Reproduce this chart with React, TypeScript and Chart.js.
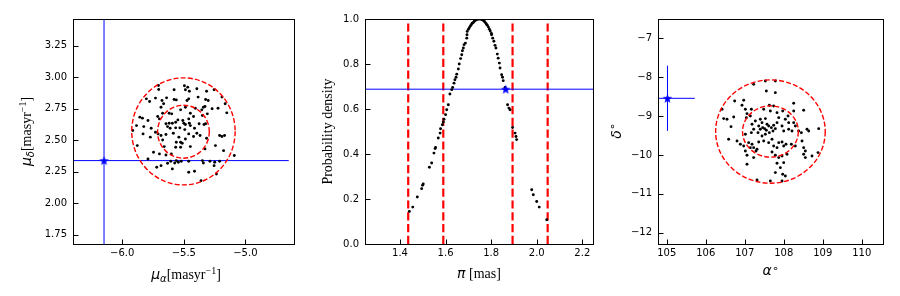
import React, { useEffect, useRef } from 'react';
import { Chart, registerables } from 'chart.js';

Chart.register(...registerables);

// ================= DATA =================
// Panel 1 — proper motion (mu_alpha, mu_delta) of members
const PM_RA_VALUES = [
  -5.706, -5.704, -5.579, -5.495, -5.468, -5.487, -5.455, -5.394, -5.315, -5.254, -5.190,
  -5.804, -5.778, -5.730, -5.677, -5.640, -5.664, -5.685, -5.579, -5.561, -5.474, -5.460,
  -5.384, -5.323, -5.302, -5.341, -5.328, -5.270, -5.222, -5.164, -5.151,
  -5.857, -5.836, -5.884, -5.825, -5.791, -5.765, -5.772, -5.831, -5.915, -5.878, -5.791,
  -5.712, -5.698, -5.672, -5.619, -5.598, -5.526, -5.487, -5.447, -5.407, -5.354, -5.349,
  -5.309, -5.421, -5.460, -5.548, -5.566, -5.593, -5.508,
  -5.645, -5.619, -5.632, -5.611, -5.566, -5.532, -5.500, -5.487, -5.455, -5.447, -5.492,
  -5.413, -5.376, -5.336, -5.323, -5.209, -5.190, -5.169, -5.315, -5.368, -5.394, -5.421,
  -5.460, -5.487, -5.540, -5.585, -5.645, -5.685, -5.709, -5.730, -5.672, -5.659, -5.561,
  -5.526, -5.513, -5.566, -5.526, -5.447, -5.328, -5.243, -5.177, -5.090,
  -5.746, -5.698, -5.601, -5.645, -5.606, -5.632, -5.561, -5.545, -5.574, -5.521, -5.460,
  -5.349, -5.341, -5.288, -5.249, -5.209, -5.254, -5.720, -5.685, -5.593, -5.460, -5.413,
  -5.360, -5.235,
];
const PM_DEC_VALUES = [
  2.934, 2.902, 2.900, 2.932, 2.921, 2.900, 2.889, 2.908, 2.889, 2.900, 2.842,
  2.828, 2.807, 2.834, 2.815, 2.836, 2.789, 2.762, 2.823, 2.820, 2.815, 2.828,
  2.842, 2.823, 2.815, 2.762, 2.767, 2.749, 2.754, 2.789, 2.717,
  2.683, 2.675, 2.616, 2.608, 2.656, 2.595, 2.524, 2.550, 2.577, 2.457, 2.351,
  2.688, 2.669, 2.714, 2.714, 2.709, 2.741, 2.762, 2.714, 2.754, 2.741, 2.696,
  2.709, 2.688, 2.669, 2.661, 2.643, 2.635, 2.656,
  2.630, 2.635, 2.608, 2.595, 2.598, 2.598, 2.635, 2.624, 2.635, 2.616, 2.584,
  2.595, 2.630, 2.624, 2.630, 2.537, 2.529, 2.537, 2.516, 2.537, 2.555, 2.529,
  2.550, 2.510, 2.524, 2.555, 2.545, 2.537, 2.550, 2.563, 2.502, 2.449, 2.484,
  2.484, 2.476, 2.444, 2.444, 2.449, 2.431, 2.457, 2.417, 2.378,
  2.404, 2.391, 2.391, 2.383, 2.333, 2.317, 2.338, 2.325, 2.319, 2.333, 2.333,
  2.338, 2.319, 2.333, 2.325, 2.333, 2.298, 2.285, 2.298, 2.272, 2.245, 2.253,
  2.179, 2.232,
];
const PM_STAR = { x: -6.148, y: 2.338, xErr: 1.5, yErr: 1.2 };
const PM_CIRCLES = [
  { cx: -5.503, cy: 2.570, rx: 0.42, ry: 0.425 },
  { cx: -5.503, cy: 2.567, rx: 0.21, ry: 0.21 },
];
const PM_X_RANGE = [-6.4, -4.605];
const PM_Y_RANGE = [1.676, 3.462];
const PM_X_TICKS = [-6.0, -5.5, -5.0];
const PM_Y_TICKS = [1.75, 2.0, 2.25, 2.5, 2.75, 3.0, 3.25];

// Panel 2 — parallax probability density
const PLX_VALUES = [
  1.441, 1.456, 1.476, 1.495, 1.499, 1.502, 1.529, 1.539, 1.549, 1.554, 1.556, 1.568,
  1.576, 1.578, 1.586, 1.590, 1.593, 1.600, 1.605, 1.612, 1.619, 1.627, 1.631, 1.637,
  1.641, 1.646, 1.649, 1.656, 1.660, 1.666, 1.671, 1.674, 1.678, 1.681, 1.687, 1.693,
  1.694, 1.695, 1.700, 1.704, 1.709, 1.713, 1.717, 1.722, 1.726, 1.731, 1.735, 1.739,
  1.744, 1.748, 1.752, 1.757, 1.761, 1.766, 1.770, 1.774, 1.779, 1.783, 1.788, 1.792,
  1.796, 1.801, 1.802, 1.807, 1.812, 1.817, 1.821, 1.827, 1.831, 1.836, 1.839, 1.846,
  1.850, 1.853, 1.861, 1.872, 1.878, 1.883, 1.894, 1.905, 1.909, 1.912, 1.978, 1.985,
  2.000, 2.011, 2.044,
];
const PLX_DENSITY = [
  0.145, 0.164, 0.209, 0.246, 0.261, 0.267, 0.341, 0.360, 0.404, 0.424, 0.429, 0.471,
  0.493, 0.512, 0.530, 0.542, 0.555, 0.575, 0.597, 0.619, 0.667, 0.686, 0.696, 0.715,
  0.730, 0.741, 0.755, 0.778, 0.800, 0.824, 0.841, 0.859, 0.871, 0.886, 0.893, 0.915,
  0.930, 0.945, 0.954, 0.961, 0.969, 0.975, 0.981, 0.985, 0.990, 0.994, 0.997, 0.999,
  1.000, 1.000, 1.000, 0.999, 0.997, 0.994, 0.990, 0.984, 0.978, 0.972, 0.964, 0.955,
  0.947, 0.936, 0.930, 0.915, 0.901, 0.883, 0.871, 0.844, 0.826, 0.804, 0.782, 0.752,
  0.741, 0.726, 0.696, 0.619, 0.604, 0.597, 0.518, 0.493, 0.478, 0.464, 0.241, 0.219,
  0.189, 0.164, 0.108,
];
const PLX_STAR = { x: 1.864, y: 0.688 };
const PLX_SIGMA_LINES = [1.436, 1.590, 1.894, 2.048];
const PLX_X_RANGE = [1.2464, 2.247];
const PLX_Y_RANGE = [0, 1];
const PLX_X_TICKS = [1.4, 1.6, 1.8, 2.0, 2.2];
const PLX_Y_TICKS = [0, 0.2, 0.4, 0.6, 0.8, 1.0];

// Panel 3 — sky positions (alpha, delta)
const RA_VALUES = [
  107.230, 107.530, 107.786, 107.555, 107.786, 108.256,
  106.743, 106.974, 106.931, 106.418, 106.461, 106.547, 106.718, 106.649, 106.589,
  107.017, 107.171, 107.059, 107.145, 107.042, 107.487, 107.632, 107.743, 107.658, 107.829,
  107.872, 107.974, 108.042, 108.111, 108.256, 108.512,
  107.273, 107.401, 107.444, 107.530, 107.572, 107.359, 107.401, 107.461, 107.512, 107.555,
  107.615, 107.683, 107.743, 107.726, 107.786, 107.829, 107.632, 107.530, 107.444, 107.341,
  107.230, 107.188, 107.171, 107.017,
  107.957, 108.000, 108.128, 108.213, 108.299, 108.256, 108.128,
  106.803, 106.889, 106.974, 107.102, 107.188, 107.230, 107.316, 107.359, 107.487, 107.615,
  107.700, 107.743, 107.829, 107.872, 107.957, 108.000, 108.059, 108.196, 108.299, 108.470,
  107.017, 107.059, 107.145, 107.786, 107.872, 107.957, 108.085,
  107.059, 107.230, 107.290, 107.700, 107.829, 107.914, 108.000, 107.974, 108.042, 107.786,
  107.316, 107.658, 107.957,
  108.384, 108.453, 108.598, 108.641, 108.512, 108.555, 108.512, 108.555, 108.726, 108.880,
  108.897,
];
const DEC_VALUES = [
  -8.180, -8.094, -8.094, -8.351, -8.394, -8.669,
  -8.609, -8.591, -8.720, -8.823, -9.063, -9.080, -9.020, -9.269, -9.595,
  -8.823, -8.823, -8.935, -8.995, -9.038, -8.823, -8.720, -8.737, -8.866, -8.909,
  -9.038, -8.866, -9.080, -8.995, -8.866, -8.849,
  -9.123, -9.080, -9.166, -9.063, -9.209, -9.252, -9.338, -9.295, -9.321, -9.364,
  -9.252, -9.295, -9.235, -9.381, -9.321, -9.166, -9.424, -9.467, -9.509, -9.424,
  -9.338, -9.209, -9.424, -9.467,
  -9.252, -9.381, -9.338, -9.381, -9.252, -9.166, -9.166,
  -9.638, -9.724, -9.767, -9.681, -9.724, -9.810, -9.853, -9.664, -9.638, -9.681,
  -9.595, -9.767, -9.810, -9.681, -9.664, -9.767, -9.724, -9.724, -9.767, -9.638,
  -9.896, -10.007, -9.810, -10.007, -10.067, -10.024, -9.981,
  -10.239, -10.067, -9.896, -9.921, -10.213, -10.325, -10.196, -10.496, -10.539, -10.453,
  -10.642, -10.668, -10.668,
  -9.381, -9.424, -9.338, -9.381, -9.810, -9.896, -9.981, -10.067, -10.024, -9.938,
  -9.321,
];
const POS_STAR = { x: 105.02, y: -8.54, xErr: 0.70, yErr: 0.84 };
const POS_CIRCLES = [
  { cx: 107.66, cy: -9.396, rx: 1.405, ry: 1.33 },
  { cx: 107.66, cy: -9.395, rx: 0.715, ry: 0.66 },
];
const POS_X_RANGE = [104.777, 110.546];
const POS_Y_RANGE = [-12.291, -6.498];
const POS_X_TICKS = [105, 106, 107, 108, 109, 110];
const POS_Y_TICKS = [-12, -11, -10, -9, -8, -7];

// ================= STYLE =================
const W = 300;
const H = 296;
const RED = '#ff0000';
const BLUE = '#0000ff';
const SANS = '"DejaVu Sans", sans-serif';
const SERIF = '"Liberation Serif", "Times New Roman", serif';
const MI = (s: number) => `italic ${s}px ${SANS}`;
const RM = (s: number) => `${s}px ${SERIF}`;
const SYM = (s: number) => `${s}px ${SANS}`;

type Run = { t: string; f: string; dy: number };
type Ellipse = { cx: number; cy: number; rx: number; ry: number };

const fmt = (d: number) => (v: number) => {
  const s = Math.abs(v).toFixed(d);
  return (v < -1e-9 ? '\u2212' : '') + s;
};

function drawRuns(ctx: CanvasRenderingContext2D, runs: Run[], x: number, y: number, rotate: boolean) {
  ctx.save();
  ctx.translate(x, y);
  if (rotate) ctx.rotate(-Math.PI / 2);
  ctx.textAlign = 'left';
  ctx.textBaseline = 'alphabetic';
  ctx.fillStyle = '#000';
  const widths = runs.map((r) => {
    ctx.font = r.f;
    return ctx.measureText(r.t).width;
  });
  const total = widths.reduce((a, b) => a + b, 0);
  let cx = -total / 2;
  runs.forEach((r, i) => {
    ctx.font = r.f;
    ctx.fillText(r.t, cx, r.dy);
    cx += widths[i];
  });
  ctx.restore();
}

function makeStar(): HTMLCanvasElement {
  const c = document.createElement('canvas');
  c.width = 11;
  c.height = 11;
  const g = c.getContext('2d')!;
  g.fillStyle = BLUE;
  g.beginPath();
  for (let i = 0; i < 10; i++) {
    const r = i % 2 === 0 ? 5 : 2.1;
    const a = -Math.PI / 2 + (i * Math.PI) / 5;
    const px = 5.5 + r * Math.cos(a);
    const py = 5.9 + r * Math.sin(a);
    if (i === 0) g.moveTo(px, py);
    else g.lineTo(px, py);
  }
  g.closePath();
  g.fill();
  return c;
}

type Spec = {
  offset: number;
  left: number;
  right: number;
  top: number;
  bottom: number;
  xRange: number[];
  yRange: number[];
  xTicks: number[];
  yTicks: number[];
  xFmt: (v: number) => string;
  yFmt: (v: number) => string;
  ellipses: Ellipse[];
  xTitle: Run[];
  xTitleX: number;
  xTitleY: number;
  yTitle: Run[];
  yTitleX: number;
  yTitleY: number;
  datasets: (star: HTMLCanvasElement) => any[];
};

const pts = (xs: number[], ys: number[]) => xs.map((x, i) => ({ x, y: ys[i] }));

const dotSet = (data: { x: number; y: number }[]) => ({
  data,
  showLine: false,
  pointRadius: 1.45,
  pointBackgroundColor: '#000',
  pointBorderWidth: 0,
  borderWidth: 0,
});
const lineSet = (data: { x: number; y: number }[], color: string, width: number, dash: number[] = []) => ({
  data,
  showLine: true,
  borderColor: color,
  borderWidth: width,
  borderDash: dash,
  borderCapStyle: 'butt',
  pointRadius: 0,
  fill: false,
});
const starSet = (x: number, y: number, star: HTMLCanvasElement) => ({
  data: [{ x, y }],
  showLine: false,
  pointStyle: star,
  pointRadius: 5,
});

const SPECS: Spec[] = [
  {
    offset: 0,
    left: 73,
    right: 299,
    top: 19,
    bottom: 244,
    xRange: PM_X_RANGE,
    yRange: PM_Y_RANGE,
    xTicks: PM_X_TICKS,
    yTicks: PM_Y_TICKS,
    xFmt: fmt(1),
    yFmt: fmt(2),
    ellipses: PM_CIRCLES,
    xTitle: [
      { t: '\u03bc', f: MI(14), dy: 0 },
      { t: '\u03b1', f: MI(10), dy: 3 },
      { t: '[masyr', f: RM(14), dy: 0 },
      { t: '\u22121', f: RM(10), dy: -5.5 },
      { t: ']', f: RM(14), dy: 0 },
    ],
    xTitleX: 186,
    xTitleY: 279,
    yTitle: [
      { t: '\u03bc', f: MI(14), dy: 0 },
      { t: '\u03b4', f: MI(10), dy: 3 },
      { t: '[masyr', f: RM(14), dy: 0 },
      { t: '\u22121', f: RM(10), dy: -5.5 },
      { t: ']', f: RM(14), dy: 0 },
    ],
    yTitleX: 31,
    yTitleY: 131.5,
    datasets: (star) => [
      starSet(PM_STAR.x, PM_STAR.y, star),
      dotSet(pts(PM_RA_VALUES, PM_DEC_VALUES)),
      lineSet(
        [
          { x: PM_STAR.x - PM_STAR.xErr, y: PM_STAR.y },
          { x: PM_STAR.x + PM_STAR.xErr, y: PM_STAR.y },
        ],
        BLUE,
        1,
      ),
      lineSet(
        [
          { x: PM_STAR.x, y: PM_STAR.y - PM_STAR.yErr },
          { x: PM_STAR.x, y: PM_STAR.y + PM_STAR.yErr },
        ],
        BLUE,
        1,
      ),
    ],
  },
  {
    offset: 300,
    left: 65,
    right: 293,
    top: 19,
    bottom: 244,
    xRange: PLX_X_RANGE,
    yRange: PLX_Y_RANGE,
    xTicks: PLX_X_TICKS,
    yTicks: PLX_Y_TICKS,
    xFmt: fmt(1),
    yFmt: fmt(1),
    ellipses: [],
    xTitle: [
      { t: '\u03c0', f: MI(14), dy: 0 },
      { t: ' [mas]', f: RM(14), dy: 0 },
    ],
    xTitleX: 179,
    xTitleY: 278,
    yTitle: [{ t: 'Probability density', f: RM(14), dy: 0 }],
    yTitleX: 32,
    yTitleY: 131.5,
    datasets: (star) => [
      starSet(PLX_STAR.x, PLX_STAR.y, star),
      dotSet(pts(PLX_VALUES, PLX_DENSITY)),
      lineSet(
        [
          { x: PLX_X_RANGE[0], y: PLX_STAR.y },
          { x: PLX_X_RANGE[1], y: PLX_STAR.y },
        ],
        BLUE,
        1,
      ),
      ...PLX_SIGMA_LINES.map((v) =>
        lineSet(
          [
            { x: v, y: PLX_Y_RANGE[0] },
            { x: v, y: PLX_Y_RANGE[1] },
          ],
          RED,
          2.2,
          [8.2, 3.6],
        ),
      ),
    ],
  },
  {
    offset: 600,
    left: 58,
    right: 283,
    top: 19,
    bottom: 244,
    xRange: POS_X_RANGE,
    yRange: POS_Y_RANGE,
    xTicks: POS_X_TICKS,
    yTicks: POS_Y_TICKS,
    xFmt: fmt(0),
    yFmt: fmt(0),
    ellipses: POS_CIRCLES,
    xTitle: [
      { t: '\u03b1', f: MI(14), dy: 0 },
      { t: '\u2218', f: SYM(11), dy: -3.5 },
    ],
    xTitleX: 170.5,
    xTitleY: 275,
    yTitle: [
      { t: '\u03b4', f: MI(14), dy: 0 },
      { t: '\u2218', f: SYM(11), dy: -4.5 },
    ],
    yTitleX: 20.5,
    yTitleY: 131,
    datasets: (star) => [
      starSet(POS_STAR.x, POS_STAR.y, star),
      dotSet(pts(RA_VALUES, DEC_VALUES)),
      lineSet(
        [
          { x: POS_STAR.x - POS_STAR.xErr, y: POS_STAR.y },
          { x: POS_STAR.x + POS_STAR.xErr, y: POS_STAR.y },
        ],
        BLUE,
        1,
      ),
      lineSet(
        [
          { x: POS_STAR.x, y: POS_STAR.y - POS_STAR.yErr },
          { x: POS_STAR.x, y: POS_STAR.y + POS_STAR.yErr },
        ],
        BLUE,
        1,
      ),
    ],
  },
];

function Panel({ spec }: { spec: Spec }) {
  const ref = useRef<HTMLCanvasElement | null>(null);
  useEffect(() => {
    const canvas = ref.current;
    if (!canvas) return;
    const star = makeStar();
    const decor = {
      id: 'decor',
      afterDatasetsDraw(chart: any) {
        const { ctx, chartArea: a } = chart;
        const xs = chart.scales.x;
        const ys = chart.scales.y;
        // dashed circles
        ctx.save();
        ctx.beginPath();
        ctx.rect(a.left, a.top, a.right - a.left, a.bottom - a.top);
        ctx.clip();
        for (const e of spec.ellipses) {
          const cx = xs.getPixelForValue(e.cx);
          const cy = ys.getPixelForValue(e.cy);
          const rx = Math.abs(xs.getPixelForValue(e.cx + e.rx) - cx);
          const ry = Math.abs(ys.getPixelForValue(e.cy + e.ry) - cy);
          ctx.beginPath();
          ctx.ellipse(cx, cy, rx, ry, 0, 0, Math.PI * 2);
          ctx.strokeStyle = RED;
          ctx.lineWidth = 1.4;
          ctx.setLineDash([5, 2.2]);
          ctx.stroke();
        }
        ctx.restore();
        // frame and inward ticks
        ctx.save();
        ctx.setLineDash([]);
        ctx.strokeStyle = '#000';
        ctx.lineWidth = 1;
        ctx.strokeRect(a.left + 0.5, a.top + 0.5, a.right - a.left, a.bottom - a.top);
        ctx.beginPath();
        for (const v of spec.xTicks) {
          const px = Math.round(xs.getPixelForValue(v)) + 0.5;
          ctx.moveTo(px, a.bottom + 0.5);
          ctx.lineTo(px, a.bottom - 4.5);
        }
        for (const v of spec.yTicks) {
          const py = Math.round(ys.getPixelForValue(v)) + 0.5;
          ctx.moveTo(a.left + 0.5, py);
          ctx.lineTo(a.left + 5.5, py);
        }
        ctx.stroke();
        ctx.restore();
        // axis titles
        drawRuns(ctx, spec.xTitle, spec.xTitleX, spec.xTitleY, false);
        drawRuns(ctx, spec.yTitle, spec.yTitleX, spec.yTitleY, true);
      },
    };
    const tickFont = { family: 'DejaVu Sans', size: 10 };
    const chart = new Chart(canvas, {
      type: 'scatter',
      data: { datasets: spec.datasets(star) },
      options: {
        responsive: false,
        animation: false,
        devicePixelRatio: 1,
        events: [],
        layout: { padding: { top: spec.top, right: W - spec.right, bottom: 0, left: 0 } },
        plugins: { legend: { display: false }, tooltip: { enabled: false } },
        scales: {
          x: {
            type: 'linear',
            bounds: 'data',
            min: spec.xRange[0],
            max: spec.xRange[1],
            afterBuildTicks: (s: any) => {
              s.ticks = spec.xTicks.map((value) => ({ value }));
            },
            afterFit: (s: any) => {
              s.height = H - spec.bottom;
            },
            grid: { display: false, drawTicks: false },
            border: { display: false },
            ticks: {
              callback: (v: any) => spec.xFmt(Number(v)),
              font: tickFont,
              color: '#000',
              padding: 3,
              autoSkip: false,
              maxRotation: 0,
              minRotation: 0,
            },
          },
          y: {
            type: 'linear',
            bounds: 'data',
            min: spec.yRange[0],
            max: spec.yRange[1],
            afterBuildTicks: (s: any) => {
              s.ticks = spec.yTicks.map((value) => ({ value }));
            },
            afterFit: (s: any) => {
              s.width = spec.left;
            },
            grid: { display: false, drawTicks: false },
            border: { display: false },
            ticks: {
              callback: (v: any) => spec.yFmt(Number(v)),
              font: tickFont,
              color: '#000',
              padding: 6,
              autoSkip: false,
            },
          },
        },
      } as any,
      plugins: [decor],
    } as any);
    return () => chart.destroy();
  }, [spec]);
  return (
    <canvas
      ref={ref}
      width={W}
      height={H}
      style={{ position: 'absolute', left: spec.offset, top: 0, width: W, height: H }}
    />
  );
}

export default function App() {
  return (
    <div style={{ position: 'absolute', left: 0, top: 0, width: 900, height: 296, background: '#fff' }}>
      {SPECS.map((s, i) => (
        <Panel key={i} spec={s} />
      ))}
    </div>
  );
}
